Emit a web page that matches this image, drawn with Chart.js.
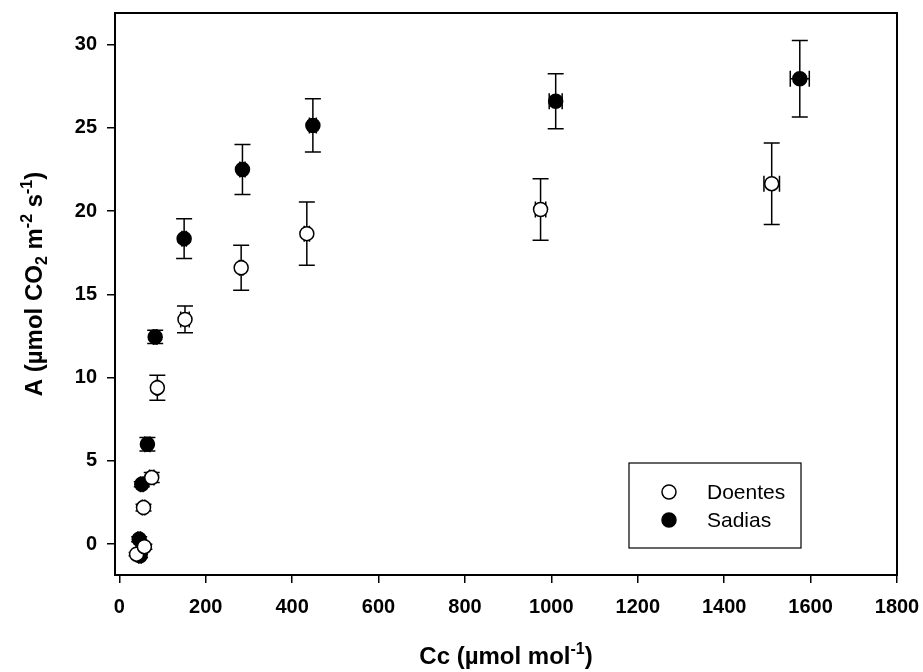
<!DOCTYPE html>
<html>
<head>
<meta charset="utf-8">
<title>Curva A/Cc</title>
<script src="https://cdn.jsdelivr.net/npm/chart.js@4.4.1/dist/chart.umd.min.js"></script>
<style>
  html, body { margin: 0; padding: 0; background: #fff; }
  #acChart { display: block; }
</style>
</head>
<body>
<canvas id="acChart" width="923" height="672"></canvas>
<script>
// curva A/Cc - plantas doentes x sadias (media +- erro padrao)

const xTicks = [0, 200, 400, 600, 800, 1000, 1200, 1400, 1600, 1800];
const yTicks = [0, 5, 10, 15, 20, 25, 30];

// Doentes
const doentesCc = [40, 58, 56, 75, 88, 152, 282, 434, 975, 1510];
const doentesA = [-0.6, -0.15, 2.2, 4.0, 9.4, 13.5, 16.6, 18.65, 20.1, 21.65];
const doentesErrCc = [2, 3, 3, 5, 3, 10, 4, 6, 12, 18];
const doentesErrA = [0.1, 0.15, 0.2, 0.3, 0.75, 0.8, 1.35, 1.9, 1.85, 2.45];

// Sadias
const sadiasCc = [48, 46, 52, 65, 83, 150, 285, 448, 1010, 1575];
const sadiasA = [-0.7, 0.3, 3.6, 6.0, 12.45, 18.35, 22.5, 25.15, 26.6, 27.95];
const sadiasErrCc = [3, 3, 3, 6, 4, 5, 6, 8, 15, 22];
const sadiasErrA = [0.1, 0.15, 0.15, 0.4, 0.4, 1.2, 1.5, 1.6, 1.65, 2.3];

const FONT = "'Liberation Sans', Arial, Helvetica, sans-serif";

function toPoints(xs, ys) {
    return xs.map((x, i) => ({ x: x, y: ys[i] }));
}

// sem margens automaticas para os rotulos das pontas
function fixScale(scale, size) {
    if (scale.isHorizontal()) scale.height = size;
    else scale.width = size;
    scale.paddingTop = 0;
    scale.paddingBottom = 0;
    scale.paddingLeft = 0;
    scale.paddingRight = 0;
}

// barras de erro em x e y, desenhadas por baixo dos simbolos
const errorBars = {
    id: 'errorBars',
    beforeDatasetsDraw(chart) {
        const ctx = chart.ctx;
        const sx = chart.scales.x;
        const sy = chart.scales.y;
        const cap = 8;
        ctx.save();
        ctx.strokeStyle = '#000';
        ctx.lineWidth = 1.5;
        chart.data.datasets.forEach(ds => {
            ds.data.forEach((p, i) => {
                const px = sx.getPixelForValue(p.x);
                const py = sy.getPixelForValue(p.y);
                const eA = ds.errA[i];
                const eC = ds.errCc[i];
                ctx.beginPath();
                if (eA) {
                    const y1 = sy.getPixelForValue(p.y + eA);
                    const y2 = sy.getPixelForValue(p.y - eA);
                    ctx.moveTo(px, y1); ctx.lineTo(px, y2);
                    ctx.moveTo(px - cap, y1); ctx.lineTo(px + cap, y1);
                    ctx.moveTo(px - cap, y2); ctx.lineTo(px + cap, y2);
                }
                if (eC) {
                    const x1 = sx.getPixelForValue(p.x - eC);
                    const x2 = sx.getPixelForValue(p.x + eC);
                    ctx.moveTo(x1, py); ctx.lineTo(x2, py);
                    ctx.moveTo(x1, py - cap); ctx.lineTo(x1, py + cap);
                    ctx.moveTo(x2, py - cap); ctx.lineTo(x2, py + cap);
                }
                ctx.stroke();
            });
        });
        ctx.restore();
    }
};

// texto com sub/sobrescritos
function drawRichText(ctx, parts, cx, cy, size, rotate) {
    const small = Math.round(size * 0.68);
    ctx.save();
    ctx.translate(cx, cy);
    if (rotate) ctx.rotate(-Math.PI / 2);
    ctx.fillStyle = '#000';
    ctx.textBaseline = 'alphabetic';
    ctx.textAlign = 'left';
    let total = 0;
    parts.forEach(p => {
        ctx.font = `bold ${p.shift ? small : size}px ${FONT}`;
        p.w = ctx.measureText(p.text).width;
        total += p.w;
    });
    let x = -total / 2;
    const base = size * 0.36;
    parts.forEach(p => {
        ctx.font = `bold ${p.shift ? small : size}px ${FONT}`;
        let dy = 0;
        if (p.shift === 'sup') dy = -size * 0.42;
        if (p.shift === 'sub') dy = size * 0.22;
        ctx.fillText(p.text, x, base + dy);
        x += p.w;
    });
    ctx.restore();
}

// moldura, titulos dos eixos e legenda
const frameAndLegend = {
    id: 'frameAndLegend',
    afterDraw(chart) {
        const ctx = chart.ctx;
        const a = chart.chartArea;
        ctx.save();
        ctx.strokeStyle = '#000';
        ctx.lineWidth = 2;
        ctx.strokeRect(a.left, a.top, a.right - a.left, a.bottom - a.top);

        drawRichText(ctx, [
            { text: 'A (µmol CO' }, { text: '2', shift: 'sub' },
            { text: ' m' }, { text: '-2', shift: 'sup' },
            { text: ' s' }, { text: '-1', shift: 'sup' }, { text: ')' }
        ], 33, (a.top + a.bottom) / 2 - 10, 24, true);

        drawRichText(ctx, [
            { text: 'Cc (µmol mol' }, { text: '-1', shift: 'sup' }, { text: ')' }
        ], (a.left + a.right) / 2, 655, 24, false);

        // legenda
        const box = { x: 629, y: 463, w: 172, h: 85 };
        ctx.lineWidth = 1.2;
        ctx.strokeRect(box.x, box.y, box.w, box.h);
        ctx.font = `21px ${FONT}`;
        ctx.textBaseline = 'middle';
        chart.data.datasets.forEach((ds, i) => {
            const ly = box.y + 29 + i * 28;
            ctx.beginPath();
            ctx.arc(box.x + 40, ly, 7, 0, Math.PI * 2);
            ctx.fillStyle = ds.pointBackgroundColor;
            ctx.fill();
            ctx.lineWidth = 1.5;
            ctx.strokeStyle = '#000';
            ctx.stroke();
            ctx.fillStyle = '#000';
            ctx.fillText(ds.label, box.x + 78, ly + 1);
        });
        ctx.restore();
    }
};

function initializeChart() {
    const ctx = document.getElementById('acChart').getContext('2d');

    new Chart(ctx, {
        type: 'scatter',
        data: {
            datasets: [{
                label: 'Doentes',
                data: toPoints(doentesCc, doentesA),
                errCc: doentesErrCc,
                errA: doentesErrA,
                pointRadius: 7,
                pointBackgroundColor: '#ffffff',
                pointBorderColor: '#000000',
                pointBorderWidth: 1.5,
                pointHoverRadius: 7
            }, {
                label: 'Sadias',
                data: toPoints(sadiasCc, sadiasA),
                errCc: sadiasErrCc,
                errA: sadiasErrA,
                pointRadius: 7,
                pointBackgroundColor: '#000000',
                pointBorderColor: '#000000',
                pointBorderWidth: 1.5,
                pointHoverRadius: 7
            }]
        },
        options: {
            responsive: false,
            animation: false,
            clip: false,
            layout: {
                padding: { top: 13, right: 26, left: 0, bottom: 0 }
            },
            plugins: {
                legend: { display: false },
                tooltip: { enabled: false }
            },
            scales: {
                x: {
                    type: 'linear',
                    min: -10,
                    max: 1800,
                    afterFit(scale) { fixScale(scale, 97); },
                    afterBuildTicks(scale) { scale.ticks = xTicks.map(v => ({ value: v })); },
                    border: { display: false },
                    grid: {
                        drawOnChartArea: false,
                        drawTicks: true,
                        tickLength: 8,
                        color: '#000',
                        lineWidth: 1.5
                    },
                    ticks: {
                        color: '#000',
                        padding: 12,
                        maxRotation: 0,
                        callback: v => String(v),
                        font: { family: FONT, size: 20, weight: 'bold' }
                    }
                },
                y: {
                    type: 'linear',
                    min: -1.85,
                    max: 31.9,
                    afterFit(scale) { fixScale(scale, 115); },
                    afterBuildTicks(scale) { scale.ticks = yTicks.map(v => ({ value: v })); },
                    border: { display: false },
                    grid: {
                        drawOnChartArea: false,
                        drawTicks: true,
                        tickLength: 8,
                        color: '#000',
                        lineWidth: 1.5
                    },
                    ticks: {
                        color: '#000',
                        padding: 10,
                        callback: v => String(v),
                        font: { family: FONT, size: 20, weight: 'bold' }
                    }
                }
            }
        },
        plugins: [errorBars, frameAndLegend]
    });
}

document.addEventListener('DOMContentLoaded', initializeChart);
</script>
</body>
</html>
